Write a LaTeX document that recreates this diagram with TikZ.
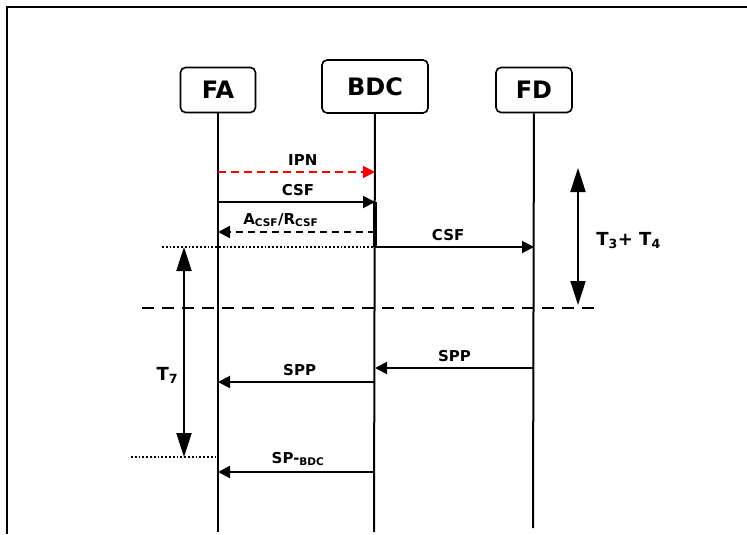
\documentclass[tikz,border=0pt]{standalone}
\usepackage{fontspec}
\setmainfont{DejaVu Sans}
\usetikzlibrary{arrows.meta, positioning, calc}
\definecolor{ipnred}{HTML}{FF0000}
\tikzset{
  entity/.style={draw, line width=1.6pt, rounded corners=5pt, inner sep=0pt,
                 font=\fontsize{24}{26}\selectfont\bfseries},
  lifeline/.style={line width=2pt},
  msg/.style={-{Triangle[length=12pt,width=12pt]}, line width=2pt},
  reply/.style={msg, dash pattern=on 7pt off 5pt},
  mlabel/.style={font=\fontsize{15}{17}\selectfont\bfseries, anchor=base, yshift=7pt},
  period/.style={{Triangle[length=24pt,width=15pt]}-{Triangle[length=24pt,width=15pt]}, line width=2pt},
  guide/.style={line width=1.8pt, dotted},
  phase/.style={line width=2pt, dash pattern=on 12pt off 8pt},
  tlabel/.style={font=\fontsize{18}{20}\selectfont\bfseries},
}

\begin{document}
\begin{tikzpicture}[x=1pt, y=-1pt]
  \useasboundingbox (0,0) rectangle (747,535);

  %% Frame (only top and left edges are shown)
  \draw[line width=1.8pt] (7,534) -- (7,7) -- (748,7);

  %% Entities
  \node[entity, minimum width=75pt, minimum height=45pt] (fa) at (218,90) {FA};
  \node[entity, minimum width=106pt, minimum height=53pt] (bdc) at (375,86.5) {BDC};
  \node[entity, minimum width=76pt, minimum height=45pt] (fd) at (534,90) {FD};

  %% Lifelines
  \coordinate (faend) at (218,532);
  \coordinate (bdcend) at (374,532);
  \coordinate (fdend) at (533,528);
  \draw[lifeline] (fa) -- (faend);
  \draw[lifeline] (bdc) -- (bdcend);
  \draw[lifeline] (fd) -- (fdend);

  %% Registration phase
  \draw[reply, ipnred, dash pattern=on 8pt off 5pt] (fa |- 0,172) -- node[mlabel, pos=0.54, text=black] {IPN} (bdc |- 0,172);
  \draw[msg] (fa |- 0,202) -- node[mlabel, pos=0.51] {CSF} (bdc |- 0,202);
  \draw[reply] (bdc |- 0,232) -- node[mlabel, pos=0.6, yshift=1pt] {A\textsubscript{CSF}/R\textsubscript{CSF}} (fa |- 0,232);
  \draw[line width=3.5pt] (bdc |- 0,202) -- (bdc |- 0,247);
  \draw[msg] (bdc |- 0,247) -- node[mlabel, pos=0.46] {CSF} (fd |- 0,247);

  %% T3 + T4
  \coordinate (t34top) at (578,168);
  \coordinate (t34bot) at (578,305);
  \draw[period] (t34top) -- node[tlabel, right=14pt, yshift=-4pt] {T\textsubscript{3}+ T\textsubscript{4}} (t34bot);

  %% Phase boundary
  \coordinate (phl) at (142,308);
  \coordinate (phr) at (597,308);
  \draw[phase] (phl) -- (phr);

  %% Timer T7
  \coordinate (g1) at (162,247);
  \coordinate (g2) at (131,457);
  \draw[guide] (g1) -- (bdc |- g1);
  \draw[guide] (g2) -- (fa |- g2);
  \coordinate (t7top) at (184,247);
  \coordinate (t7bot) at (184,457);
  \draw[period] (t7top) -- (t7bot);
  \node[tlabel, anchor=base west] (t7) at (153,380) {T\textsubscript{7}};

  %% Reporting phase
  \draw[msg] (fd |- 0,368) -- node[mlabel, pos=0.5] {SPP} (bdc |- 0,368);
  \draw[msg] (bdc |- 0,382) -- node[mlabel, pos=0.48] {SPP} (fa |- 0,382);
  \draw[msg] (bdc |- 0,472) -- node[mlabel, pos=0.49, yshift=2pt] {SP-\textsubscript{BDC}} (fa |- 0,472);

\end{tikzpicture}
\end{document}
